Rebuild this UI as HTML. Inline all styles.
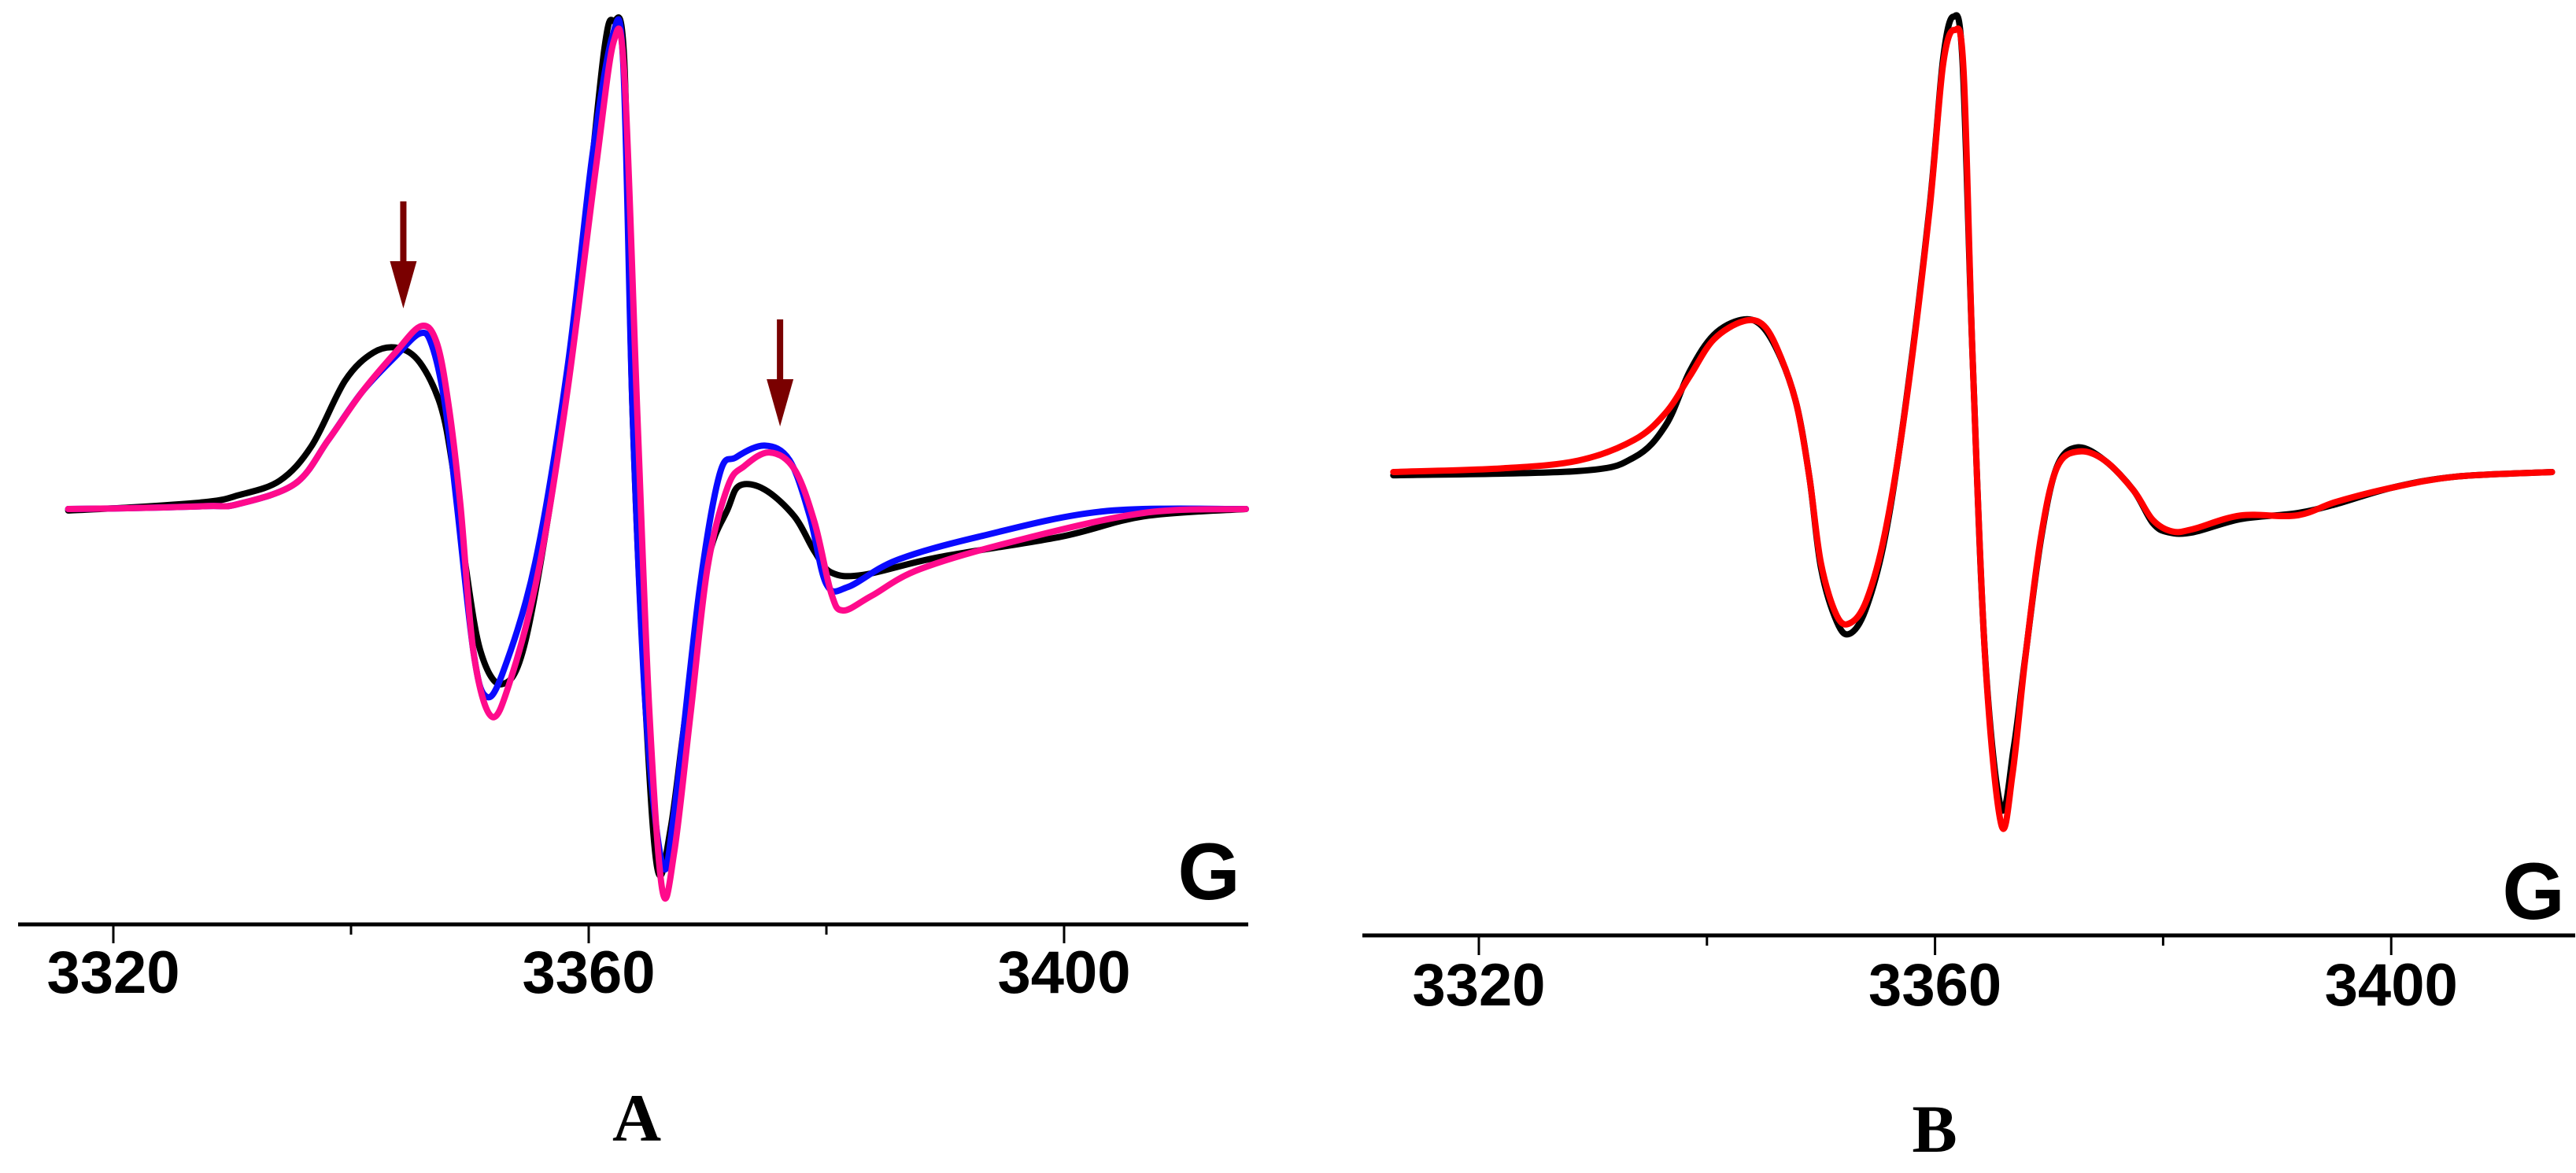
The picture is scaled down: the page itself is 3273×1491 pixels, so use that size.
<!DOCTYPE html>
<html><head><meta charset="utf-8"><style>
html,body{margin:0;padding:0;background:#fff}
svg{display:block}
</style></head><body>
<svg id="fig" width="3273" height="1491" viewBox="0 0 3273 1491" xmlns="http://www.w3.org/2000/svg">
<g id="panelA"></g>
<g id="panelB"></g>
</svg>
<script>
// ----- data: field (G) and signal (arb) -----
const xTicks = [3320, 3340, 3360, 3380, 3400];
const xTickLabels = ["3320", "", "3360", "", "3400"];

const aBlackField = [3316.2,3322,3328,3330.5,3334.0,3336.7,3339.5,3341.9,3344.0,3345.8,3347.5,3348.5,3349.6,3350.9,3352.7,3354.7,3357.5,3359.6,3361.3,3362.1,3363.0,3363.7,3364.8,3365.8,3366.9,3368.2,3370.0,3371.7,3372.7,3374.8,3377.3,3379.0,3380.4,3383.1,3389.4,3399.7,3406.7,3415.3];
const aBlackValue = [-0.3,0.4,1.5,2.8,5.8,13,26.3,32.1,33,30,21.5,9.5,-11,-29.2,-35.9,-26.8,13,55.3,94,100,91.6,19,-41.3,-74,-65.4,-41.3,-11,0,4.8,4,-1.5,-8.7,-13,-13.5,-9.9,-5.7,-1.5,0];

const aBlueField = [3316.2,3322,3328,3330.5,3335.3,3338.1,3340.9,3343.7,3345.8,3346.8,3347.9,3348.9,3350.3,3351.3,3352.7,3355.5,3358.2,3360.3,3362.0,3362.9,3363.7,3364.8,3366.2,3367.2,3369.3,3371.0,3372.4,3374.8,3376.9,3378.6,3380.0,3381.8,3385.9,3392.8,3403.2,3415.3];
const aBlueValue = [0,0.2,0.6,1,5.2,14.2,23.9,31.2,36,33.6,21.5,1,-29.2,-38.3,-34,-11,28.7,72.3,97,91.6,19,-41.3,-72.8,-62,-17,7,10.6,13,10,-1.5,-15.4,-16,-10.5,-5.7,-0.5,0];

const aPinkField = [3316.2,3322,3328,3330.5,3335.3,3338.1,3340.9,3343.7,3345.9,3347.2,3348.2,3349.2,3350.3,3351.8,3353.4,3355.8,3358.2,3360.6,3362.1,3363.0,3364.1,3365.1,3366.2,3367.2,3368.6,3370.0,3371.7,3373.1,3375.2,3377.3,3379.0,3380.4,3381.4,3383.8,3387.9,3396.3,3406.7,3415.3];
const aPinkValue = [0,0.2,0.6,1,5.2,14.2,23.9,32,37.5,34.2,21.5,1,-29.2,-42.5,-35.2,-12.3,24,69.9,95.8,89,19,-41.3,-78.2,-70.3,-41.3,-12,4.6,8.8,11.6,8.2,-2.7,-17.2,-20.8,-17.8,-12.3,-6.3,-0.8,0];

const bBlackField = [3312.5,3328.7,3333.6,3336.4,3338.5,3340.6,3343.0,3344.8,3346.5,3347.9,3349.0,3350.0,3351.4,3352.5,3353.9,3355.6,3357.4,3359.5,3360.7,3361.6,3362.4,3363.3,3364.4,3365.8,3366.9,3367.9,3369.3,3370.7,3372.5,3374.9,3377.4,3379.1,3380.5,3382.6,3386.8,3391.7,3395.2,3400.1,3405.7,3414.1];
const bBlackValue = [-0.7,0.2,3.2,10.3,22.1,30,33.3,32,24.8,14.3,-1.4,-21,-32.8,-35.4,-30.2,-14.5,14.3,57.5,90.2,99.6,90.2,24.8,-40.7,-73.5,-60.3,-40.7,-14.5,1.2,5.4,2.5,-4,-11.2,-13.2,-13.2,-10.3,-9,-7,-3.4,-1,0];

const bRedField = [3312.5,3322.0,3328.7,3333.6,3336.4,3338.5,3340.6,3343.2,3345.0,3346.5,3347.9,3349.0,3350.0,3351.4,3352.6,3354.0,3355.6,3357.4,3359.5,3360.7,3361.7,3362.5,3363.3,3364.4,3365.8,3366.8,3367.9,3369.3,3370.7,3372.6,3374.9,3377.4,3379.1,3380.8,3382.6,3386.8,3391.7,3395.2,3400.1,3405.7,3414.1];
const bRedValue = [0,0.8,2.5,7,13,21,29,33,32,25,14.3,-1.4,-20,-31.5,-33,-28,-13.5,14,57,89,96.7,88,24.8,-41,-77,-66,-41,-14,1,4.5,2.5,-4,-10.5,-13,-12.5,-9.5,-9.5,-6.5,-3.4,-1,0];

const arrowFields = [3344.4, 3376.1];
</script>
<script>
const NS = "http://www.w3.org/2000/svg";
function mk(parent, tag, attrs) {
  const e = document.createElementNS(NS, tag);
  for (const k in attrs) e.setAttribute(k, attrs[k]);
  parent.appendChild(e);
  return e;
}
function pathFrom(fields, vals, sx, sy) {
  const p = fields.map((f, i) => [sx(f), sy(vals[i])]);
  let d = "M" + p[0][0].toFixed(1) + "," + p[0][1].toFixed(1);
  for (let i = 0; i < p.length - 1; i++) {
    const p0 = p[Math.max(0, i - 1)], p1 = p[i], p2 = p[i + 1], p3 = p[Math.min(p.length - 1, i + 2)];
    const c1x = p1[0] + (p2[0] - p0[0]) / 6, c1y = p1[1] + (p2[1] - p0[1]) / 6;
    const c2x = p2[0] - (p3[0] - p1[0]) / 6, c2y = p2[1] - (p3[1] - p1[1]) / 6;
    d += " C" + c1x.toFixed(1) + "," + c1y.toFixed(1) + " " + c2x.toFixed(1) + "," + c2y.toFixed(1) + " " + p2[0].toFixed(1) + "," + p2[1].toFixed(1);
  }
  return d;
}
function drawAxis(g, sx, axisY, x0, x1, labelY, majorLen, panelLetter, letterX) {
  const ax = mk(g, "line", {x1: x0, y1: axisY, x2: x1, y2: axisY, stroke: "#000", "stroke-width": 5});
  
  
  xTicks.forEach((t, i) => {
    const x = sx(t);
    const major = xTickLabels[i] !== "";
    const tk = mk(g, "line", {x1: x, y1: axisY, x2: x, y2: axisY + (major ? majorLen : 13), stroke: "#000", "stroke-width": 3});
    
    
    if (major) {
      const tl = mk(g, "text", {x: x, y: labelY, "text-anchor": "middle", "font-family": "Liberation Sans, Arial, sans-serif", "font-weight": "bold", "font-size": 76});
      tl.textContent = xTickLabels[i];
      
      
    }
  });
  const pl = mk(g, "text", {x: letterX, y: axisY + 275, "text-anchor": "middle", "font-family": "Liberation Serif, Times New Roman, serif", "font-weight": "bold", "font-size": 86});
  pl.textContent = panelLetter;
  
  
}

// ---- Panel A ----
const gA = document.getElementById("panelA");
const sxA = f => 144 + (f - 3320) * 15.1;
const syA = v => 647 - v * 6.2;
drawAxis(gA, sxA, 1175, 23, 1586, 1262, 24, "A", 809);
const gLabA = mk(gA, "text", {x: 1536, y: 1143, "text-anchor": "middle", "font-family": "Liberation Sans, Arial, sans-serif", "font-weight": "bold", "font-size": 102});
gLabA.textContent = "G";


[[aBlackField, aBlackValue, "#000000", "series-black"], [aBlueField, aBlueValue, "#0a0aff", "series-blue"], [aPinkField, aPinkValue, "#ff0a8c", "series-pink"]].forEach(s => {
  const p = mk(gA, "path", {d: pathFrom(s[0], s[1], sxA, syA), fill: "none", stroke: s[2], "stroke-width": 8, "stroke-linejoin": "round", "stroke-linecap": "round"});
  
  
});
const arrowTops = [256, 406];
arrowFields.forEach((f, i) => {
  const x = sxA(f), top = arrowTops[i];
  const g = mk(gA, "g", {fill: "#7a0000"});
  
  
  mk(g, "rect", {x: x - 4, y: top, width: 8, height: 80});
  mk(g, "polygon", {points: (x - 17) + "," + (top + 76) + " " + (x + 17) + "," + (top + 76) + " " + x + "," + (top + 136)});
});

// ---- Panel B ----
const gB = document.getElementById("panelB");
const sxB = f => 1879 + (f - 3320) * 14.49;
const syB = v => 600 - v * 5.81;
drawAxis(gB, sxB, 1189, 1731, 3272, 1278, 25, "B", 2458);
const gLabB = mk(gB, "text", {x: 3219, y: 1168, "text-anchor": "middle", "font-family": "Liberation Sans, Arial, sans-serif", "font-weight": "bold", "font-size": 102});
gLabB.textContent = "G";


[[bBlackField, bBlackValue, "#000000", "series-experimental"], [bRedField, bRedValue, "#ff0000", "series-simulation"]].forEach(s => {
  const p = mk(gB, "path", {d: pathFrom(s[0], s[1], sxB, syB), fill: "none", stroke: s[2], "stroke-width": 8, "stroke-linejoin": "round", "stroke-linecap": "round"});
  
  
});
</script>
</body></html>
